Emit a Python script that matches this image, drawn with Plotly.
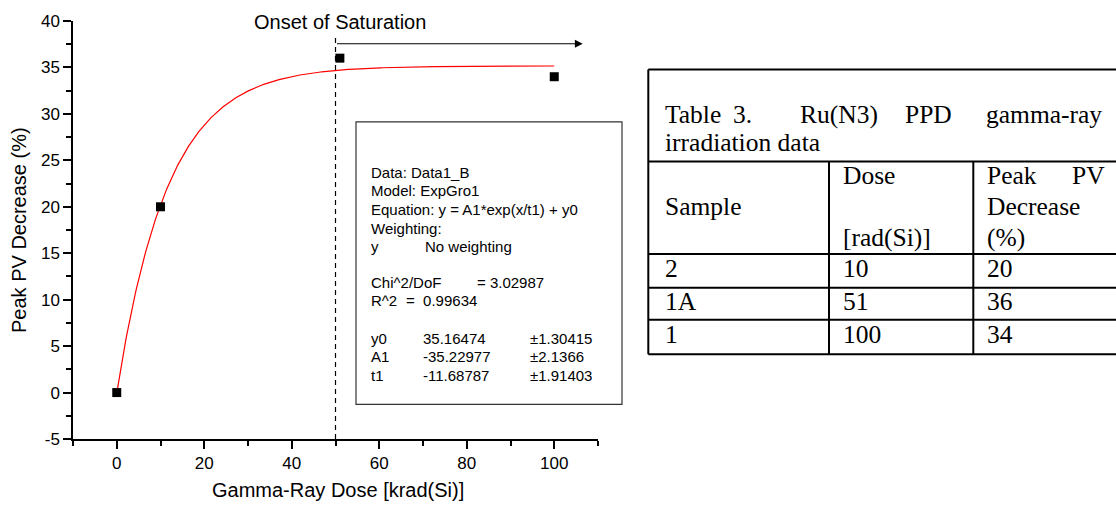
import numpy as np
import plotly.graph_objects as go

# Measured peak PV decrease vs gamma-ray dose
dose = [0, 10, 51, 100]
pv_decrease = [0, 20, 36, 34]

# ExpGro1 fit parameters: y = A1*exp(x/t1) + y0
fit_y0 = 35.16474
fit_A1 = -35.22977
fit_t1 = -11.68787
fit_y0_err = 1.30415
fit_A1_err = 2.1366
fit_t1_err = 1.91403
chi2_dof = 3.02987
r_squared = 0.99634

saturation_dose = 50

# Axis ticks
x_ticks = [0, 20, 40, 60, 80, 100]
y_ticks = [-5, 0, 5, 10, 15, 20, 25, 30, 35, 40]
y_ticktext = [str(v) for v in y_ticks]

# Table 3 contents
samples = ["2", "1A", "1"]
table_dose = dose[1:]
table_decrease = pv_decrease[1:]

# Figure geometry (pixels)
FIG_W, FIG_H = 1116, 508
L, R, T, B = 73, 598, 16, 439
PW, PH = R - L, B - T


def px(x):
    return (x - L) / PW


def py(y):
    return (B - y) / PH


SANS = "Arial, Liberation Sans, sans-serif"
SERIF = "Times New Roman, Liberation Serif, serif"

fig = go.Figure()

x_fit = np.linspace(0, 100, 400)
y_fit = fit_A1 * np.exp(x_fit / fit_t1) + fit_y0
fig.add_trace(go.Scatter(x=x_fit, y=y_fit, mode="lines",
                         line=dict(color="#ff0000", width=1.2),
                         hoverinfo="skip", showlegend=False))
fig.add_trace(go.Scatter(x=dose, y=pv_decrease, mode="markers",
                         marker=dict(symbol="square", size=9, color="black"),
                         showlegend=False, cliponaxis=False))

shapes = []
annotations = []


def label(x, y, txt, size, family=SANS, anchor="left", angle=0):
    # pixel-positioned text; small offsets compensate annotation padding
    dx = -2 if anchor == "left" else 0
    annotations.append(dict(xref="paper", yref="paper",
                            x=px(x + dx), y=py(y - 2.5),
                            text=txt, showarrow=False, textangle=angle,
                            xanchor=anchor, yanchor="middle",
                            font=dict(family=family, size=size, color="black")))


# Saturation marker: dashed vertical line and arrow
shapes.append(dict(type="line", xref="x", yref="y",
                   x0=saturation_dose, x1=saturation_dose, y0=-5, y1=38.3,
                   line=dict(color="black", width=1.2, dash="5px,4px")))
annotations.append(dict(xref="x", yref="y", axref="x", ayref="y",
                        x=106.5, y=37.55, ax=saturation_dose, ay=37.55,
                        text="", showarrow=True, arrowhead=2, arrowsize=1.3,
                        arrowwidth=1.2, arrowcolor="black"))
label(339.5, 20, "Onset of Saturation", 20, anchor="center")

# Axis titles
label(338, 493, "Gamma-Ray Dose [krad(Si)]", 20, anchor="center")
annotations.append(dict(xref="paper", yref="paper", x=px(19), y=py(227.5),
                        text="Peak PV Decrease (%)", showarrow=False,
                        textangle=-90, xanchor="center", yanchor="middle",
                        font=dict(family=SANS, size=20, color="black")))

# Fit results box
shapes.append(dict(type="rect", xref="paper", yref="paper",
                   x0=px(356), x1=px(622), y0=py(404), y1=py(118),
                   line=dict(color="#333333", width=1.2),
                   fillcolor="rgba(0,0,0,0)"))

box_lines = [
    (172, [(371, "Data: Data1_B")]),
    (190.5, [(371, "Model: ExpGro1")]),
    (209, [(371, "Equation: y = A1*exp(x/t1) + y0")]),
    (228, [(371, "Weighting:")]),
    (246.5, [(371, "y"), (425, "No weighting")]),
    (283, [(371, "Chi^2/DoF"), (477, f"= {chi2_dof:.5f}")]),
    (301.5, [(371, "R^2"), (406, f"=  {r_squared:.5f}")]),
    (340, [(371, "y0"), (423, f"{fit_y0:.5f}"), (530, f"±{fit_y0_err}")]),
    (358.5, [(371, "A1"), (423, f"{fit_A1:.5f}"), (530, f"±{fit_A1_err}")]),
    (377, [(371, "t1"), (423, f"{fit_t1:.5f}"), (530, f"±{fit_t1_err}")]),
]
for yy, parts in box_lines:
    for xx, txt in parts:
        label(xx, yy, txt, 15)

# Table 3 grid
tbl_left, tbl_right = 648.3, 1125
col_x = [829, 973.3]
row_y = [65, 158.3, 251.7, 286, 318.3, 353.3]
for ry in row_y:
    shapes.append(dict(type="line", xref="paper", yref="paper",
                       x0=px(tbl_left), x1=px(tbl_right), y0=py(ry), y1=py(ry),
                       line=dict(color="black", width=2)))
shapes.append(dict(type="line", xref="paper", yref="paper",
                   x0=px(tbl_left), x1=px(tbl_left), y0=py(row_y[0]), y1=py(row_y[-1]),
                   line=dict(color="black", width=2)))
for cx in col_x:
    shapes.append(dict(type="line", xref="paper", yref="paper",
                       x0=px(cx), x1=px(cx), y0=py(row_y[1]), y1=py(row_y[-1]),
                       line=dict(color="black", width=2)))


def cell(x, y, txt):
    label(x, y, txt, 25.5, family=SERIF)


# Justified caption
for xx, word in [(665, "Table"), (733, "3."), (800, "Ru(N3)"),
                 (905, "PPD"), (986, "gamma-ray")]:
    cell(xx, 113, word)
cell(665, 141.7, "irradiation data")

# Header
cell(665, 206.7, "Sample")
cell(843.3, 175, "Dose")
cell(843.3, 238, "[rad(Si)]")
cell(987, 175, "Peak")
cell(1072, 175, "PV")
cell(987, 206.7, "Decrease")
cell(987, 238, "(%)")

# Body rows
body_y = [268.5, 302, 335.5]
for yy, s, d, p in zip(body_y, samples, table_dose, table_decrease):
    cell(665, yy, s)
    cell(843.3, yy, str(d))
    cell(987, yy, str(p))

axis_common = dict(showline=True, linecolor="black", linewidth=1.5,
                   ticks="outside", ticklen=8, tickwidth=1.5, tickcolor="black",
                   showgrid=False, zeroline=False, mirror=False,
                   tickfont=dict(family=SANS, size=17, color="black"))

fig.update_layout(
    width=FIG_W, height=FIG_H, autosize=False,
    margin=dict(l=L, r=FIG_W - R, t=T, b=FIG_H - B, pad=0),
    paper_bgcolor="white", plot_bgcolor="white",
    showlegend=False,
    xaxis=dict(range=[-10, 110], tickmode="array", tickvals=x_ticks,
               minor=dict(dtick=10, tick0=0, ticks="outside", ticklen=5,
                          tickwidth=1.5, tickcolor="black", showgrid=False),
               **axis_common),
    yaxis=dict(range=[-5, 40], tickmode="array", tickvals=y_ticks,
               ticktext=y_ticktext,
               minor=dict(dtick=2.5, tick0=0, ticks="outside", ticklen=5,
                          tickwidth=1.5, tickcolor="black", showgrid=False),
               **axis_common),
    shapes=shapes,
    annotations=annotations,
)

fig.write_html("out.html")
